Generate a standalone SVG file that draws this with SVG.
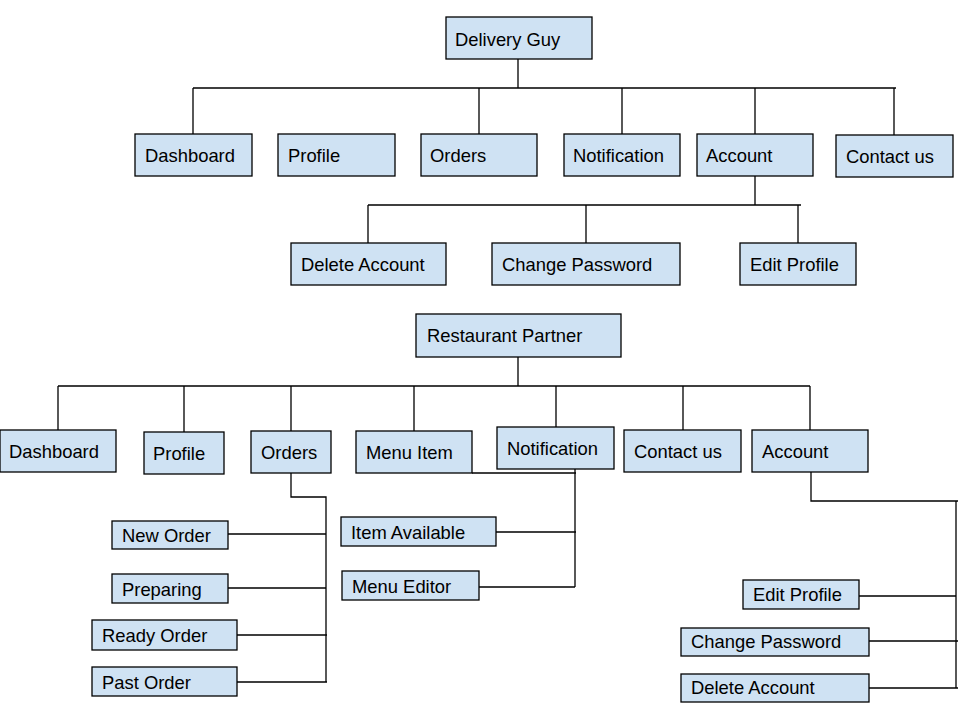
<svg xmlns="http://www.w3.org/2000/svg" width="960" height="720" viewBox="0 0 960 720">
<style>
.box{fill:#cfe2f3;stroke:#000;stroke-width:1.3}
.lbl{font-family:"Liberation Sans",Arial,sans-serif;font-size:18.4px;fill:#000}
.ln{stroke:#000;stroke-width:1.3;fill:none}
</style>
<rect width="960" height="720" fill="#fff"/>
<g id="connectors">
<path class="ln" d="M518 59V88M193 88H896M193 88V134M479 88V134M622 88V134M755 88V134M894 88V135"/>
<path class="ln" d="M755 176V205M368 205H801M368 205V243M586 205V243M798 205V243"/>
<path class="ln" d="M518 357V386M58 386H810M58 386V430M184 386V432M291 386V431M414 386V431M556 386V427M683 386V430M810 386V430"/>
<path class="ln" d="M291 473V497H326V682M228 534H326M228 588H326M237 635H327M237 682H327"/>
<path class="ln" d="M472 473H576M575 469V587M496 532H576M479 587H575"/>
<path class="ln" d="M811 472V501H958M956 501V688M859 596H956M869 641H958M869 688H958"/>
</g>
<g id="delivery-guy"><rect class="box" x="446" y="17" width="146" height="42"/><text class="lbl" x="455" y="46">Delivery Guy</text></g>
<g id="dg-dashboard"><rect class="box" x="135" y="134" width="117" height="42"/><text class="lbl" x="145" y="162">Dashboard</text></g>
<g id="dg-profile"><rect class="box" x="278" y="134" width="117" height="42"/><text class="lbl" x="288" y="162">Profile</text></g>
<g id="dg-orders"><rect class="box" x="421" y="134" width="116" height="42"/><text class="lbl" x="430" y="162">Orders</text></g>
<g id="dg-notification"><rect class="box" x="564" y="134" width="116" height="42"/><text class="lbl" x="573" y="162">Notification</text></g>
<g id="dg-account"><rect class="box" x="697" y="134" width="116" height="42"/><text class="lbl" x="706" y="162">Account</text></g>
<g id="dg-contact"><rect class="box" x="836" y="135" width="117" height="42"/><text class="lbl" x="846" y="163">Contact us</text></g>
<g id="dg-delete"><rect class="box" x="291" y="243" width="155" height="42"/><text class="lbl" x="301" y="271">Delete Account</text></g>
<g id="dg-change"><rect class="box" x="492" y="243" width="188" height="42"/><text class="lbl" x="502" y="271">Change Password</text></g>
<g id="dg-edit"><rect class="box" x="740" y="243" width="116" height="42"/><text class="lbl" x="750" y="271">Edit Profile</text></g>
<g id="restaurant-partner"><rect class="box" x="416" y="314" width="205" height="43"/><text class="lbl" x="427" y="342">Restaurant Partner</text></g>
<g id="rp-dashboard"><rect class="box" x="0" y="430" width="116" height="42"/><text class="lbl" x="9" y="458">Dashboard</text></g>
<g id="rp-profile"><rect class="box" x="144" y="432" width="80" height="42"/><text class="lbl" x="153" y="460">Profile</text></g>
<g id="rp-orders"><rect class="box" x="251" y="431" width="80" height="42"/><text class="lbl" x="261" y="459">Orders</text></g>
<g id="rp-menu"><rect class="box" x="356" y="431" width="116" height="42"/><text class="lbl" x="366" y="459">Menu Item</text></g>
<g id="rp-notification"><rect class="box" x="497" y="427" width="117" height="42"/><text class="lbl" x="507" y="455">Notification</text></g>
<g id="rp-contact"><rect class="box" x="624" y="430" width="117" height="42"/><text class="lbl" x="634" y="458">Contact us</text></g>
<g id="rp-account"><rect class="box" x="752" y="430" width="116" height="42"/><text class="lbl" x="762" y="458">Account</text></g>
<g id="rp-new-order"><rect class="box" x="112" y="521" width="116" height="28"/><text class="lbl" x="122" y="542">New Order</text></g>
<g id="rp-preparing"><rect class="box" x="112" y="574" width="116" height="29"/><text class="lbl" x="122" y="596">Preparing</text></g>
<g id="rp-ready"><rect class="box" x="92" y="620" width="145" height="30"/><text class="lbl" x="102" y="642">Ready Order</text></g>
<g id="rp-past"><rect class="box" x="92" y="667" width="145" height="29"/><text class="lbl" x="102" y="689">Past Order</text></g>
<g id="rp-item-available"><rect class="box" x="341" y="517" width="155" height="29"/><text class="lbl" x="351" y="539">Item Available</text></g>
<g id="rp-menu-editor"><rect class="box" x="342" y="571" width="137" height="29"/><text class="lbl" x="352" y="593">Menu Editor</text></g>
<g id="rp-edit"><rect class="box" x="743" y="580" width="116" height="29"/><text class="lbl" x="753" y="601">Edit Profile</text></g>
<g id="rp-change"><rect class="box" x="681" y="628" width="188" height="28"/><text class="lbl" x="691" y="648">Change Password</text></g>
<g id="rp-delete"><rect class="box" x="681" y="674" width="188" height="28"/><text class="lbl" x="691" y="694">Delete Account</text></g>
</svg>
